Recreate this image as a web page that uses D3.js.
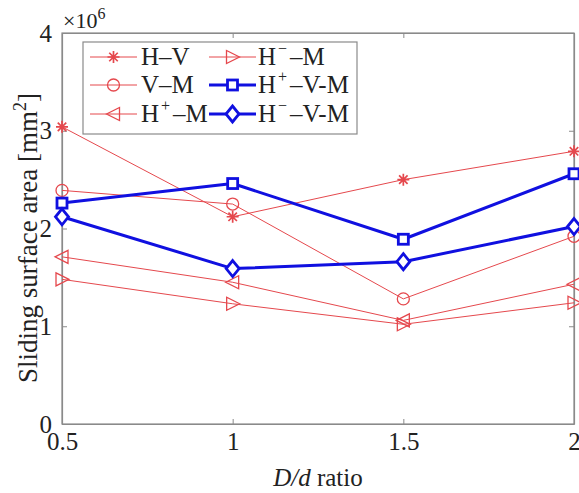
<!DOCTYPE html>
<html><head><meta charset="utf-8">
<script src="https://cdn.jsdelivr.net/npm/d3@7"></script>
<style>body{margin:0;background:#fff}svg{display:block}text{font-family:"Liberation Serif",serif;fill:#222}</style>
</head><body>
<script>
const ratios = [0.5, 1, 1.5, 2];
const hV = [3.04e6, 2.12e6, 2.50e6, 2.79e6];
const vM = [2.39e6, 2.25e6, 1.28e6, 1.92e6];
const hPlusM = [1.71e6, 1.45e6, 1.06e6, 1.43e6];
const hMinusM = [1.48e6, 1.23e6, 1.02e6, 1.24e6];
const hPlusVM = [2.26e6, 2.46e6, 1.89e6, 2.56e6];
const hMinusVM = [2.12e6, 1.59e6, 1.66e6, 2.02e6];
const xTicks = [0.5, 1, 1.5, 2];
const yTicks = [0, 1e6, 2e6, 3e6, 4e6];

const W = 579, H = 493;
const m = {l: 62, r: 5, t: 33, b: 69};
const svg = d3.select("body").append("svg").attr("width", W).attr("height", H);
const x = d3.scaleLinear().domain([0.5, 2]).range([m.l, W - m.r]);
const y = d3.scaleLinear().domain([0, 4e6]).range([H - m.b, m.t]);

const axisColor = "#8a8a8a";
svg.append("rect").attr("x", m.l).attr("y", m.t).attr("width", W - m.r - m.l).attr("height", H - m.b - m.t)
  .attr("fill", "none").attr("stroke", axisColor).attr("stroke-width", 1.2);

const tl = 5;
svg.append("g").attr("transform", `translate(0,${H - m.b})`)
  .call(d3.axisBottom(x).tickValues(xTicks).tickSizeInner(-tl).tickSizeOuter(0).tickPadding(8).tickFormat(d => d));
svg.append("g").attr("transform", `translate(${m.l},0)`)
  .call(d3.axisLeft(y).tickValues(yTicks).tickSizeInner(-tl).tickSizeOuter(0).tickPadding(10).tickFormat(d => d / 1e6));
svg.append("g").attr("transform", `translate(0,${m.t})`)
  .call(d3.axisTop(x).tickValues(xTicks).tickSizeInner(-tl).tickSizeOuter(0).tickFormat(""));
svg.append("g").attr("transform", `translate(${W - m.r},0)`)
  .call(d3.axisRight(y).tickValues(yTicks).tickSizeInner(-tl).tickSizeOuter(0).tickFormat(""));
svg.selectAll(".domain").attr("stroke", axisColor).attr("stroke-width", 1.2);
svg.selectAll(".tick line").attr("stroke", axisColor);
svg.selectAll(".tick text").attr("font-family", "Liberation Serif").attr("font-size", 25).attr("fill", "#222");

// x10^6
const ex = svg.append("text").attr("x", 63).attr("y", 28).attr("font-size", 22);
ex.append("tspan").text("×10");
ex.append("tspan").attr("dy", -9).attr("font-size", 16).text("6");

// axis labels
const yl = svg.append("text").attr("transform", `translate(37,238) rotate(-90)`)
  .attr("text-anchor", "middle").attr("font-size", 27);
yl.append("tspan").text("Sliding surface area [mm");
yl.append("tspan").attr("dy", -11).attr("font-size", 18).text("2");
yl.append("tspan").attr("dy", 11).text("]");
const xl = svg.append("text").attr("x", (m.l + W - m.r) / 2).attr("y", 486).attr("text-anchor", "middle").attr("font-size", 25);
xl.append("tspan").attr("font-style", "italic").text("D/d");
xl.append("tspan").text(" ratio");

const red = "#e5484d", blue = "#1010e0";
const series = [
  {name: "H–V", vals: hV, color: red, w: 1, marker: "star"},
  {name: "V–M", vals: vM, color: red, w: 1, marker: "circle"},
  {name: "H+–M", vals: hPlusM, color: red, w: 1, marker: "tleft"},
  {name: "H−–M", vals: hMinusM, color: red, w: 1, marker: "tright"},
  {name: "H+–V-M", vals: hPlusVM, color: blue, w: 3, marker: "square"},
  {name: "H−–V-M", vals: hMinusVM, color: blue, w: 3, marker: "diamond"}
];

function drawMarker(g, type, cx, cy, color) {
  const s = 6;
  if (type === "star") {
    const p = [];
    for (let k = 0; k < 4; k++) {
      const a = k * Math.PI / 4;
      p.push(`M${cx - s * Math.cos(a)},${cy - s * Math.sin(a)}L${cx + s * Math.cos(a)},${cy + s * Math.sin(a)}`);
    }
    g.append("path").attr("d", p.join("")).attr("stroke", color).attr("stroke-width", 1.7).attr("fill", "none");
  } else if (type === "circle") {
    g.append("circle").attr("cx", cx).attr("cy", cy).attr("r", 6).attr("fill", "none").attr("stroke", color).attr("stroke-width", 1.3);
  } else if (type === "tleft") {
    g.append("path").attr("d", `M${cx - 7},${cy}L${cx + 6},${cy - 6.5}L${cx + 6},${cy + 6.5}Z`).attr("fill", "none").attr("stroke", color).attr("stroke-width", 1.3);
  } else if (type === "tright") {
    g.append("path").attr("d", `M${cx + 7},${cy}L${cx - 6},${cy - 6.5}L${cx - 6},${cy + 6.5}Z`).attr("fill", "none").attr("stroke", color).attr("stroke-width", 1.3);
  } else if (type === "square") {
    g.append("rect").attr("x", cx - 5).attr("y", cy - 5).attr("width", 10).attr("height", 10).attr("fill", "#fff").attr("stroke", color).attr("stroke-width", 2.8);
  } else if (type === "diamond") {
    g.append("path").attr("d", `M${cx},${cy - 8}L${cx + 6.5},${cy}L${cx},${cy + 8}L${cx - 6.5},${cy}Z`).attr("fill", "#fff").attr("stroke", color).attr("stroke-width", 2.8);
  }
}

const line = d3.line().x((d, i) => x(ratios[i])).y(d => y(d));
const plot = svg.append("g");
series.forEach(s => {
  plot.append("path").datum(s.vals).attr("d", line).attr("fill", "none").attr("stroke", s.color).attr("stroke-width", s.w).attr("stroke-linejoin", "round");
});
series.forEach(s => {
  const g = plot.append("g");
  s.vals.forEach((v, i) => drawMarker(g, s.marker, x(ratios[i]), y(v), s.color));
});

// legend
const lg = svg.append("g");
lg.append("rect").attr("x", 83).attr("y", 42).attr("width", 274).attr("height", 92).attr("fill", "#fff").attr("stroke", axisColor).attr("stroke-width", 1.2);
const cols = [{x0: 90, x1: 137, tx: 141}, {x0: 209, x1: 256, tx: 258}];
const rows = [57, 85, 114];
series.forEach((s, i) => {
  const c = cols[Math.floor(i / 3)], r = rows[i % 3];
  lg.append("line").attr("x1", c.x0).attr("x2", c.x1).attr("y1", r).attr("y2", r).attr("stroke", s.color).attr("stroke-width", s.w);
  drawMarker(lg, s.marker, (c.x0 + c.x1) / 2, r, s.color);
  const t = lg.append("text").attr("x", c.tx).attr("y", r + 8).attr("font-size", 25);
  const nm = s.name;
  if (nm[1] === "+" || nm[1] === "−") {
    t.append("tspan").text("H");
    t.append("tspan").attr("dx", 2).attr("dy", -11).attr("font-size", 16).text(nm[1]);
    t.append("tspan").attr("dx", 3).attr("dy", 11).text(nm.slice(2));
  } else {
    t.text(nm);
  }
});
</script>
</body></html>
